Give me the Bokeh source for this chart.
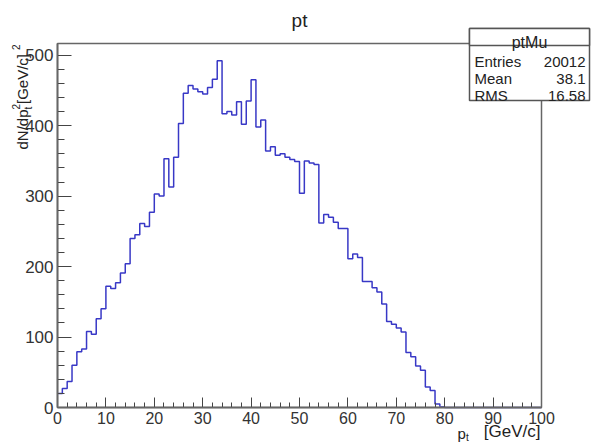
import math
from bokeh.plotting import figure
from bokeh.models import Range1d, SingleIntervalTicker, Label, BoxAnnotation
from bokeh.embed import file_html
from bokeh.resources import INLINE

# ---------------- data ----------------
hist_title = "pt"
x_low, x_high = 0, 100
bin_width = 1
counts = [20, 27, 37, 60, 79, 83, 108, 104, 126, 140,
          172, 169, 177, 191, 204, 240, 245, 261, 257, 277,
          303, 300, 353, 313, 355, 403, 446, 457, 452, 448,
          445, 454, 466, 492, 417, 420, 415, 434, 402, 435,
          465, 398, 408, 364, 370, 358, 360, 355, 352, 349,
          304, 350, 347, 345, 262, 274, 270, 263, 254, 254,
          211, 218, 213, 179, 179, 170, 164, 147, 122, 118,
          113, 107, 78, 72, 59, 53, 29, 24, 5, 1,
          0, 0, 0, 0, 0, 0, 0, 0, 0, 0,
          0, 0, 0, 0, 0, 0, 0, 0, 0, 0]
stats_name = "ptMu"
stats_keys = ["Entries", "Mean", "RMS"]
stats_vals = ["20012", "38.1", "16.58"]
x_major = 10
y_major = 100

# ---------------- layout (picture pixels) ----------------
W, H = 591, 443
PL, PR, PT, PB = 57, 541, 43, 407          # ROOT frame edges in the picture
ymax = 1.05 * max(counts)
sx = (PR - PL) / (x_high - x_low)
sy = (PB - PT) / ymax

def X(px):
    return (px - PL) / sx + x_low

def Y(py):
    return (PB - py) / sy

edges = [x_low + i * bin_width for i in range(len(counts) + 1)]
levels = counts + [counts[-1]]

FONT = "Liberation Sans"
LINE = "#3838c6"

p = figure(width=W, height=H, output_backend="svg", toolbar_location=None,
           x_range=Range1d(X(0), X(W)), y_range=Range1d(Y(H), Y(0)),
           min_border=0, min_border_left=0, min_border_right=0,
           min_border_top=0, min_border_bottom=0)
p.background_fill_color = "white"
p.border_fill_color = "white"
p.outline_line_color = None
p.xgrid.visible = False
p.ygrid.visible = False

p.step(edges, levels, mode="after", line_color=LINE, line_width=1.5)

p.xaxis.ticker = SingleIntervalTicker(interval=x_major, num_minor_ticks=5)
p.yaxis.ticker = SingleIntervalTicker(interval=y_major, num_minor_ticks=5)
p.xaxis.fixed_location = 0
p.yaxis.fixed_location = x_low
p.xaxis.bounds = (x_low, x_high)
p.yaxis.bounds = (0, ymax)
for ax, maj, mnr, fs, so in ((p.xaxis[0], 10, 5, "16px", 4), (p.yaxis[0], 14, 7, "17px", 4)):
    ax.major_tick_out = 0
    ax.minor_tick_out = 0
    ax.major_tick_in = maj
    ax.minor_tick_in = mnr
    ax.major_tick_line_color = "#444444"
    ax.minor_tick_line_color = "#444444"
    ax.axis_line_color = "#888888"
    ax.axis_line_width = 2
    ax.major_label_text_font = FONT
    ax.major_label_text_font_size = fs
    ax.major_label_text_color = "#333333"
    ax.major_label_standoff = so

# ROOT frame box
p.add_layout(BoxAnnotation(left=x_low, right=x_high, bottom=0, top=ymax,
                           fill_alpha=0.0, line_color="#666666", line_width=1.5,
                           line_alpha=1.0))

def lab(x, y, text, size, align="left", baseline="alphabetic", angle=0.0, color="#222222"):
    p.add_layout(Label(x=x, y=y, text=text, text_font=FONT, text_font_size=size,
                       text_align=align, text_baseline=baseline, angle=angle,
                       text_color=color))

# title
lab(X(299), Y(20), hist_title, "19px", align="center")

# x axis title  p_t [GeV/c]
lab(X(457), Y(433), "p", "15px")
lab(X(465.5), Y(437), "t", "10px")
lab(X(540), Y(431), "[GeV/c]", "17px", align="right")

# y axis title  dN/dp_t^2 [GeV/c]^2 (rotated)
r = math.pi / 2
lab(X(22), Y(149), "dN/dp", "15px", angle=r)
lab(X(15), Y(109), "2", "10px", angle=r)
lab(X(28), Y(109), "t", "10px", angle=r)
lab(X(22), Y(103.5), " [GeV/c]", "15px", angle=r)
lab(X(15), Y(49.5), "2", "10px", angle=r)

# stats box
bx_l, bx_r, bx_t, bx_m, bx_b = 469, 589, 28, 45, 100
p.add_layout(BoxAnnotation(left=X(bx_l), right=X(bx_r), top=Y(bx_t), bottom=Y(bx_b),
                           fill_color="white", fill_alpha=1.0,
                           line_color="#555555", line_width=1.5, line_alpha=1.0))
p.add_layout(BoxAnnotation(left=X(bx_l), right=X(bx_r), top=Y(bx_t), bottom=Y(bx_m),
                           fill_color="white", fill_alpha=1.0,
                           line_color="#555555", line_width=1.5, line_alpha=1.0))
lab(X((bx_l + bx_r) / 2), Y(41.5), stats_name, "16px", align="center")
row_base = [61, 78, 95]
for k, v, b in zip(stats_keys, stats_vals, row_base):
    lab(X(bx_l + 5), Y(b), k, "15px")
    lab(X(bx_r - 4), Y(b), v, "15px", align="right")

open("out.html", "w").write(file_html(p, INLINE))
